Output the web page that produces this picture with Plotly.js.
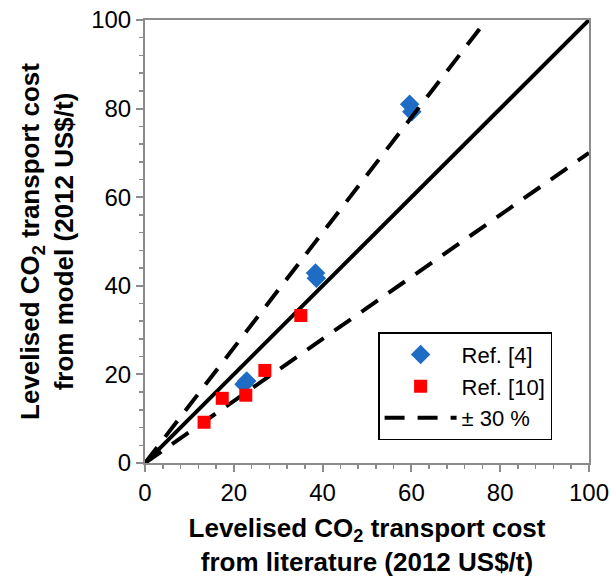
<!DOCTYPE html>
<html>
<head>
<meta charset="utf-8">
<script src="https://cdn.plot.ly/plotly-3.0.1.min.js"></script>
<style>html,body{margin:0;padding:0;background:#fff;}#chart{width:611px;height:579px;}</style>
</head>
<body>
<div id="chart"></div>
<script>
// Ref. [4] (blue diamonds): literature vs model cost
const ref4X = [59.6, 60.1, 38.4, 38.6, 22.3, 22.9];
const ref4Y = [81.0, 79.3, 42.9, 41.7, 17.8, 18.5];
// Ref. [10] (red squares)
const ref10X = [13.3, 17.4, 22.7, 27.0, 35.1];
const ref10Y = [9.2, 14.6, 15.3, 20.9, 33.3];
// Parity line and ±30 % lines
const parityX = [0, 100];
const parityY = [0, 100];
const plus30X = [0, 76.9];
const plus30Y = [0, 100];
const minus30X = [0, 100];
const minus30Y = [0, 70];
const xTicks = [0, 20, 40, 60, 80, 100];
const yTicks = [0, 20, 40, 60, 80, 100];

const FONT = 'Liberation Sans, Arial, sans-serif';
const AXC = '#8c8c8c';

const traces = [
  {x: ref4X, y: ref4Y, mode: 'markers', type: 'scatter', name: 'Ref. [4]', legendrank: 1,
   marker: {symbol: 'diamond', size: 15, color: '#1f6cc4', line: {width: 0}}},
  {x: parityX, y: parityY, mode: 'lines', type: 'scatter', showlegend: false,
   line: {color: '#000', width: 4}},
  {x: plus30X, y: plus30Y, mode: 'lines', type: 'scatter', name: '± 30 %', legendrank: 3,
   line: {color: '#000', width: 4, dash: '20px,13px'}},
  {x: minus30X, y: minus30Y, mode: 'lines', type: 'scatter', showlegend: false,
   line: {color: '#000', width: 4, dash: '20px,13px'}},
  {x: ref10X, y: ref10Y, mode: 'markers', type: 'scatter', name: 'Ref. [10]', legendrank: 2,
   marker: {symbol: 'square', size: 13, color: '#ff0000', line: {width: 0}}}
];

const axisBase = {
  range: [0, 100], showgrid: false, zeroline: false, showline: true, mirror: true,
  linecolor: AXC, linewidth: 2, ticks: 'outside', ticklen: 7, tickwidth: 2, tickcolor: AXC,
  tickfont: {family: FONT, size: 24, color: '#000'},
  minor: {dtick: 4, ticks: 'outside', ticklen: 4, tickwidth: 1.5, tickcolor: AXC, showgrid: false},
  fixedrange: true
};

const layout = {
  width: 611, height: 579,
  margin: {l: 145, r: 22, t: 20, b: 116},
  paper_bgcolor: '#fff', plot_bgcolor: '#fff',
  font: {family: FONT, color: '#000'},
  xaxis: Object.assign({}, axisBase, {
    tickmode: 'array', tickvals: xTicks, ticktext: xTicks.map(String),
    title: {text: '<b>Levelised CO<sub>2</sub> transport cost<br>from literature (2012 US$/t)</b>',
            font: {family: FONT, size: 26, color: '#000'}, standoff: 14}
  }),
  yaxis: Object.assign({}, axisBase, {
    tickmode: 'array', tickvals: yTicks, ticktext: yTicks.map(String),
    title: {text: '<b>Levelised CO<sub>2</sub> transport cost<br>from model (2012 US$/t)</b>',
            font: {family: FONT, size: 26, color: '#000'}, standoff: 10}
  }),
  showlegend: true,
  legend: {
    x: 0.525, y: 0.295, xanchor: 'left', yanchor: 'top',
    bgcolor: '#fff', bordercolor: '#000', borderwidth: 1.5,
    font: {family: FONT, size: 22, color: '#000'},
    itemwidth: 72, tracegroupgap: 0, traceorder: 'normal',
    entrywidth: 120
  }
};

Plotly.newPlot('chart', traces, layout, {displayModeBar: false, staticPlot: true});
</script>
</body>
</html>
